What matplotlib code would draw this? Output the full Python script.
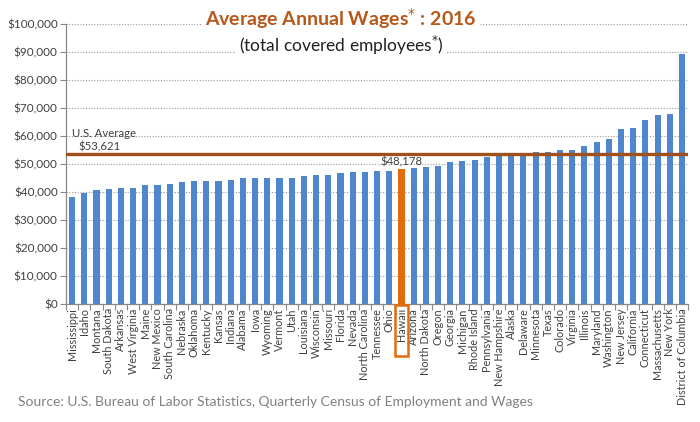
import matplotlib
matplotlib.use("Agg")
import matplotlib.pyplot as plt
from matplotlib.patches import Rectangle
from matplotlib.ticker import FuncFormatter, MultipleLocator, FixedLocator
import matplotlib.transforms as mtransforms

states = ["Mississippi", "Idaho", "Montana", "South Dakota", "Arkansas", "West Virginia",
          "Maine", "New Mexico", "South Carolina", "Nebraska", "Oklahoma", "Kentucky",
          "Kansas", "Indiana", "Alabama", "Iowa", "Wyoming", "Vermont", "Utah", "Louisiana",
          "Wisconsin", "Missouri", "Florida", "Nevada", "North Carolina", "Tennessee", "Ohio",
          "Hawaii", "Arizona", "North Dakota", "Oregon", "Georgia", "Michigan", "Rhode Island",
          "Pennsylvania", "New Hampshire", "Alaska", "Delaware", "Minnesota", "Texas",
          "Colorado", "Virginia", "Illinois", "Maryland", "Washington", "New Jersey",
          "California", "Connecticut", "Massachusetts", "New York", "District of Columbia"]
wages = [38100, 39600, 40700, 41100, 41500, 41600,
         42600, 42600, 42800, 43500, 43800, 44000,
         44000, 44500, 44900, 44900, 44900, 45000, 45200, 45600,
         46000, 46200, 47000, 47200, 47200, 47400, 47700,
         48178, 48700, 49000, 49500, 50800, 51000, 51400,
         52500, 53700, 53800, 54000, 54400, 54400,
         54900, 54900, 56400, 58000, 58900, 62700,
         62900, 65700, 67500, 67900, 89500]
us_average = 53621
highlight = "Hawaii"

BLUE = "#4F86CC"
ORANGE = "#E36C0A"
BROWN = "#A0501A"
TITLE_C = "#B5581A"
TXT = "#404040"

plt.rcParams['font.family'] = ['Lato', 'DejaVu Sans']

fig = plt.figure(figsize=(7, 4.22), dpi=100)
ax = fig.add_axes([0.0943, 0.2796, 0.8887, 0.6628])

x = list(range(len(states)))
hi = states.index(highlight)
colors = [ORANGE if s == highlight else BLUE for s in states]
ax.bar(x, wages, width=0.5, color=colors, zorder=2)

ax.set_xlim(-0.5, len(states) - 0.5)
ax.set_ylim(0, 100000)
ax.yaxis.set_major_locator(MultipleLocator(10000))
ax.yaxis.set_major_formatter(FuncFormatter(lambda v, p: "${:,.0f}".format(v)))
ax.grid(axis='y', linestyle=(0, (1, 1.5)), color="#9a9a9a", linewidth=0.8, zorder=0)
ax.set_axisbelow(True)

ax.set_xticks(x)
ax.set_xticklabels(states, rotation=90, fontsize=7.8, color=TXT)
ax.xaxis.set_minor_locator(FixedLocator([i - 0.5 for i in range(len(states) + 1)]))
ax.tick_params(axis='x', which='major', length=0, pad=3)
ax.tick_params(axis='x', which='minor', length=4, color="#888888", width=0.8)
ax.tick_params(axis='y', length=4, color="#888888", width=0.8, labelsize=8.5, labelcolor=TXT, pad=2)

for s in ['top', 'right']:
    ax.spines[s].set_visible(False)
for s in ['left', 'bottom']:
    ax.spines[s].set_color("#888888")
    ax.spines[s].set_linewidth(0.9)

# US average line
ax.axhline(us_average, color=BROWN, linewidth=2.4, zorder=3)
ax.text(0.0, us_average + 5200, "U.S. Average", fontsize=8.2, color=TXT, ha='left', va='bottom')
ax.text(0.5, us_average + 600, "${:,}".format(us_average), fontsize=8.2, color=TXT, ha='left', va='bottom')

# Hawaii label
ax.text(hi, wages[hi] + 500, "${:,}".format(wages[hi]), fontsize=8.2, color=TXT, ha='center', va='bottom', zorder=4)

# box around highlighted tick label
trans = mtransforms.blended_transform_factory(ax.transData, ax.transAxes)
rect = Rectangle((hi - 0.55, -0.187), 1.1, 0.183, transform=trans, fill=False,
                 edgecolor=ORANGE, linewidth=1.8, clip_on=False, zorder=5)
ax.add_patch(rect)

# titles
fig.text(0.487, 0.955, "Average Annual Wages$^{*}$ : 2016", fontsize=14, fontweight='bold',
         color=TITLE_C, ha='center', va='center',
         bbox=dict(facecolor='white', edgecolor='none', pad=2))
fig.text(0.487, 0.893, "(total covered employees$^{*}$)", fontsize=12.5, color="#202020",
         ha='center', va='center', bbox=dict(facecolor='white', edgecolor='none', pad=2))

fig.text(0.026, 0.047, "Source: U.S. Bureau of Labor Statistics, Quarterly Census of Employment and Wages",
         fontsize=10, color="#808080", ha='left', va='center')

fig.savefig("out.png", dpi=100)
